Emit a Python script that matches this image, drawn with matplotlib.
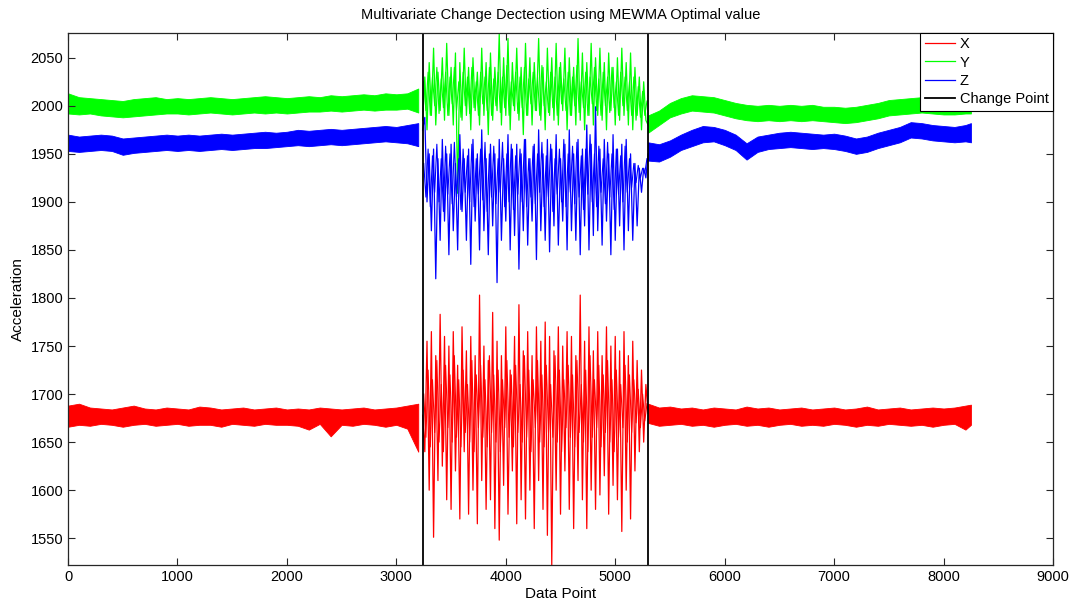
import numpy as np
import matplotlib
matplotlib.use("Agg")
import matplotlib.pyplot as plt

plt.rcParams['font.family'] = ['Liberation Sans', 'DejaVu Sans']

# ---------------- data ----------------
change_points = [3240, 5300]

# quiet segment before the change: sample index and noise band (low / high)
x_pre = np.arange(0, 3201, 100)
red_lo_pre = [1666, 1668, 1667, 1669, 1668, 1666, 1668, 1669, 1667, 1668,
              1669, 1667, 1668, 1668, 1666, 1669, 1668, 1667, 1669, 1668,
              1668, 1667, 1663, 1669, 1656, 1668, 1667, 1669, 1668, 1666,
              1668, 1664, 1640]
red_hi_pre = [1688, 1690, 1686, 1685, 1684, 1686, 1688, 1685, 1684, 1686,
              1685, 1684, 1687, 1686, 1684, 1685, 1686, 1684, 1685, 1686,
              1684, 1685, 1684, 1686, 1685, 1684, 1685, 1686, 1684, 1685,
              1686, 1688, 1690]
green_lo_pre = [1992, 1991, 1992, 1990, 1989, 1988, 1989, 1990, 1991, 1992,
                1992, 1991, 1992, 1993, 1992, 1991, 1992, 1993, 1992, 1993,
                1992, 1993, 1994, 1994, 1995, 1994, 1995, 1996, 1995, 1996,
                1996, 1997, 1993]
green_hi_pre = [2013, 2009, 2008, 2007, 2006, 2005, 2007, 2008, 2009, 2007,
                2008, 2007, 2008, 2009, 2008, 2007, 2008, 2009, 2010, 2009,
                2008, 2009, 2010, 2009, 2011, 2010, 2011, 2012, 2011, 2013,
                2012, 2013, 2018]
blue_lo_pre = [1953, 1952, 1953, 1954, 1953, 1949, 1951, 1952, 1953, 1954,
               1953, 1954, 1953, 1954, 1955, 1954, 1955, 1956, 1956, 1957,
               1958, 1959, 1958, 1959, 1960, 1959, 1960, 1961, 1962, 1963,
               1962, 1961, 1958]
blue_hi_pre = [1970, 1968, 1969, 1970, 1969, 1966, 1967, 1968, 1969, 1970,
               1969, 1970, 1969, 1970, 1971, 1970, 1971, 1972, 1973, 1972,
               1973, 1975, 1974, 1975, 1976, 1975, 1976, 1977, 1978, 1979,
               1978, 1980, 1982]

# active segment: alternating peaks / troughs every 20 samples
x_act = np.arange(3240, 5301, 20)
red_act = [1678, 1640, 1755, 1600, 1765, 1551, 1740, 1610, 1783, 1625,
           1760, 1590, 1750, 1580, 1765, 1620, 1730, 1570, 1770, 1640,
           1745, 1575, 1760, 1600, 1740, 1565, 1803, 1610, 1750, 1580,
           1735, 1590, 1785, 1560, 1755, 1548, 1740, 1605, 1770, 1575,
           1725, 1620, 1760, 1565, 1793, 1590, 1745, 1570, 1765, 1600,
           1740, 1560, 1770, 1610, 1755, 1580, 1775, 1553, 1760, 1522,
           1745, 1600, 1770, 1575, 1750, 1620, 1765, 1580, 1760, 1560,
           1740, 1610, 1803, 1590, 1755, 1560, 1770, 1600, 1745, 1580,
           1765, 1595, 1740, 1615, 1770, 1575, 1750, 1605, 1760, 1590,
           1745, 1557, 1765, 1600, 1740, 1570, 1755, 1620, 1735, 1640,
           1725, 1650, 1710, 1680]
green_act = [1985, 2030, 1975, 2045, 1990, 2060, 1980, 2035, 1995, 2050,
             1985, 2065, 1990, 2040, 1980, 2055, 1909, 2045, 1985, 2060,
             1990, 2040, 1975, 2050, 1995, 2035, 1980, 2060, 1990, 2045,
             1970, 2055, 1985, 2040, 1995, 2075, 1980, 2050, 1990, 2070,
             1975, 2045, 1995, 2060, 1985, 2040, 1970, 2065, 1990, 2050,
             1980, 2045, 1995, 2070, 1985, 2040, 1975, 2060, 1990, 2050,
             1985, 2065, 1980, 2045, 1995, 2060, 1975, 2050, 1990, 2040,
             1980, 2070, 1985, 2055, 1975, 2045, 1990, 2065, 1980, 2050,
             1990, 2060, 1985, 2045, 1975, 2055, 1995, 2040, 1980, 2050,
             1985, 2060, 1990, 2045, 1980, 2055, 1975, 2040, 1990, 2030,
             1975, 2025, 1985, 1980]
blue_act = [1975, 1988, 1900, 1950, 1870, 1955, 1820, 1945, 1860, 1965,
            1880, 1950, 1845, 1960, 1870, 1940, 1850, 1970, 1890, 1945,
            1860, 1955, 1835, 1965, 1880, 1950, 1850, 1975, 1870, 1945,
            1845, 1960, 1875, 1950, 1816, 1965, 1860, 1945, 1880, 1970,
            1850, 1955, 1865, 1960, 1830, 1950, 1870, 1965, 1855, 1945,
            1880, 1960, 1840, 1975, 1870, 1950, 1860, 1965, 1848, 1955,
            1875, 1970, 1855, 1945, 1880, 1960, 1850, 1975, 1870, 1950,
            1860, 1965, 1845, 1955, 1875, 1980, 1850, 1960, 1865, 1999,
            1870, 1955, 1855, 1965, 1880, 1950, 1845, 1970, 1860, 1955,
            1875, 1960, 1850, 1965, 1870, 1950, 1860, 1940, 1875, 1935,
            1910, 1935, 1925, 1950]

# smaller in-between swings of the active segment (offset by 10 samples)
x_inner = np.arange(3250, 5291, 20)
red_inner = [1700, 1655, 1725, 1645, 1715, 1660, 1735, 1650, 1710, 1640,
             1730, 1665, 1720, 1650, 1740, 1655, 1715, 1645, 1725, 1660,
             1710, 1650, 1735, 1640, 1720, 1665, 1730, 1655, 1715, 1645,
             1740, 1660, 1720, 1650, 1725, 1640, 1715, 1665, 1735, 1655,
             1720, 1645, 1730, 1660, 1710, 1650, 1740, 1655, 1725, 1640,
             1715, 1665, 1735, 1650, 1720, 1645, 1730, 1660, 1710, 1655,
             1740, 1650, 1725, 1640, 1715, 1665, 1730, 1655, 1720, 1645,
             1735, 1660, 1710, 1650, 1725, 1640, 1740, 1655, 1715, 1665,
             1730, 1645, 1720, 1660, 1735, 1650, 1715, 1640, 1725, 1655,
             1710, 1665, 1730, 1650, 1720, 1660, 1715, 1670, 1705, 1665,
             1700, 1672, 1690]
green_inner = [2025, 1995, 2035, 1990, 2030, 2000, 2040, 1992, 2028, 1998,
               2035, 1990, 2030, 2002, 2040, 1995, 2025, 1988, 2035, 2000,
               2030, 1992, 2040, 1998, 2025, 1990, 2035, 2002, 2030, 1995,
               2040, 1990, 2028, 2000, 2035, 1993, 2030, 1998, 2042, 1990,
               2025, 2000, 2035, 1992, 2030, 1998, 2040, 1990, 2028, 2002,
               2035, 1995, 2030, 1990, 2042, 2000, 2025, 1993, 2035, 1998,
               2030, 1990, 2040, 2002, 2028, 1995, 2035, 1990, 2030, 2000,
               2042, 1993, 2025, 1998, 2035, 1990, 2030, 2002, 2040, 1995,
               2028, 1990, 2035, 2000, 2030, 1993, 2040, 1998, 2025, 1990,
               2035, 2000, 2030, 1995, 2025, 1990, 2030, 1985, 2020, 1988,
               2015, 1990, 2005]
blue_inner = [1940, 1905, 1955, 1895, 1948, 1910, 1960, 1900, 1945, 1890,
              1958, 1908, 1950, 1898, 1962, 1905, 1945, 1892, 1955, 1910,
              1948, 1900, 1960, 1895, 1945, 1908, 1955, 1902, 1962, 1890,
              1950, 1905, 1958, 1898, 1945, 1910, 1962, 1895, 1950, 1900,
              1960, 1892, 1948, 1908, 1955, 1900, 1965, 1895, 1945, 1905,
              1958, 1898, 1950, 1910, 1962, 1895, 1948, 1905, 1960, 1890,
              1945, 1908, 1955, 1900, 1965, 1895, 1950, 1910, 1958, 1898,
              1962, 1905, 1948, 1892, 1955, 1908, 1970, 1900, 1950, 1895,
              1958, 1910, 1945, 1898, 1962, 1905, 1950, 1892, 1955, 1908,
              1948, 1900, 1958, 1910, 1945, 1915, 1940, 1920, 1938, 1925,
              1935, 1930, 1945]

# quiet segment after the change
x_post = np.append(np.arange(5300, 8201, 100), 8250)
red_lo_post = [1670, 1667, 1668, 1669, 1667, 1668, 1666, 1668, 1669, 1667,
               1668, 1666, 1668, 1669, 1667, 1668, 1667, 1669, 1668, 1666,
               1668, 1667, 1669, 1668, 1667, 1668, 1666, 1668, 1669, 1663,
               1668]
red_hi_post = [1690, 1686, 1687, 1685, 1686, 1684, 1686, 1685, 1684, 1687,
               1685, 1686, 1684, 1685, 1686, 1684, 1685, 1686, 1684, 1685,
               1687, 1684, 1685, 1686, 1684, 1685, 1686, 1685, 1686, 1688,
               1689]
green_lo_post = [1972, 1980, 1988, 1992, 1995, 1994, 1993, 1990, 1987, 1985,
                 1984, 1985, 1984, 1985, 1984, 1985, 1984, 1983, 1982, 1983,
                 1985, 1987, 1990, 1991, 1992, 1993, 1992, 1991, 1991, 1992,
                 1992]
green_hi_post = [1990, 1995, 2003, 2008, 2011, 2010, 2009, 2006, 2003, 2001,
                 2000, 2001, 2000, 2001, 2000, 2001, 1999, 1999, 1998, 1999,
                 2001, 2003, 2006, 2007, 2008, 2009, 2008, 2007, 2007, 2008,
                 2009]
blue_lo_post = [1943, 1942, 1947, 1954, 1958, 1962, 1963, 1959, 1954, 1944,
                1952, 1955, 1956, 1957, 1956, 1955, 1956, 1955, 1953, 1950,
                1952, 1956, 1959, 1962, 1967, 1966, 1964, 1963, 1962, 1963,
                1962]
blue_hi_post = [1962, 1960, 1964, 1970, 1975, 1979, 1978, 1975, 1970, 1961,
                1968, 1970, 1972, 1973, 1972, 1971, 1970, 1971, 1969, 1966,
                1968, 1972, 1975, 1978, 1983, 1982, 1980, 1979, 1978, 1980,
                1982]

series = [
    ("X", "#ff0000", red_lo_pre, red_hi_pre, red_act, red_inner, red_lo_post, red_hi_post),
    ("Y", "#00ff00", green_lo_pre, green_hi_pre, green_act, green_inner, green_lo_post, green_hi_post),
    ("Z", "#0000ff", blue_lo_pre, blue_hi_pre, blue_act, blue_inner, blue_lo_post, blue_hi_post),
]

# ---------------- figure ----------------
fig = plt.figure(figsize=(10.8, 6.07), dpi=100)
ax = fig.add_axes([0.063, 0.069, 0.912, 0.877])

handles = []
for name, col, lo_pre, hi_pre, act, inner, lo_post, hi_post in series:
    ax.fill_between(x_pre, lo_pre, hi_pre, color=col, lw=0.6, edgecolor=col)
    ax.plot(x_inner, inner, color=col, lw=0.8)
    h, = ax.plot(x_act, act, color=col, lw=0.9, label=name)
    ax.fill_between(x_post, lo_post, hi_post, color=col, lw=0.6, edgecolor=col)
    handles.append(h)

for i, cp in enumerate(change_points):
    h = ax.axvline(cp, color='black', lw=1.3,
                   label='Change Point' if i == 0 else None)
    if i == 0:
        handles.append(h)

ax.set_xlim(0, 9000)
ax.set_ylim(1522, 2076)
ax.set_xticks(np.arange(0, 9001, 1000))
ax.set_yticks(np.arange(1550, 2051, 50))
ax.tick_params(direction='in', top=True, right=True, length=5, width=0.8,
               labelsize=10.5, colors='#262626', labelcolor='black')
for s in ax.spines.values():
    s.set_color('#262626')
    s.set_linewidth(0.9)

ax.set_title('Multivariate Change Dectection using MEWMA Optimal value',
             fontsize=10.5, pad=10)
ax.set_xlabel('Data Point', fontsize=11, labelpad=2)
ax.set_ylabel('Acceleration', fontsize=11, labelpad=4)

leg = ax.legend(handles=handles, loc='upper right', fontsize=10.5,
                frameon=True, fancybox=False, borderaxespad=0,
                handlelength=2.1, handletextpad=0.3, labelspacing=0.3,
                borderpad=0.3)
leg.get_frame().set_edgecolor('black')
leg.get_frame().set_linewidth(0.8)
leg.get_frame().set_alpha(1)

fig.savefig('out.png', dpi=100)
